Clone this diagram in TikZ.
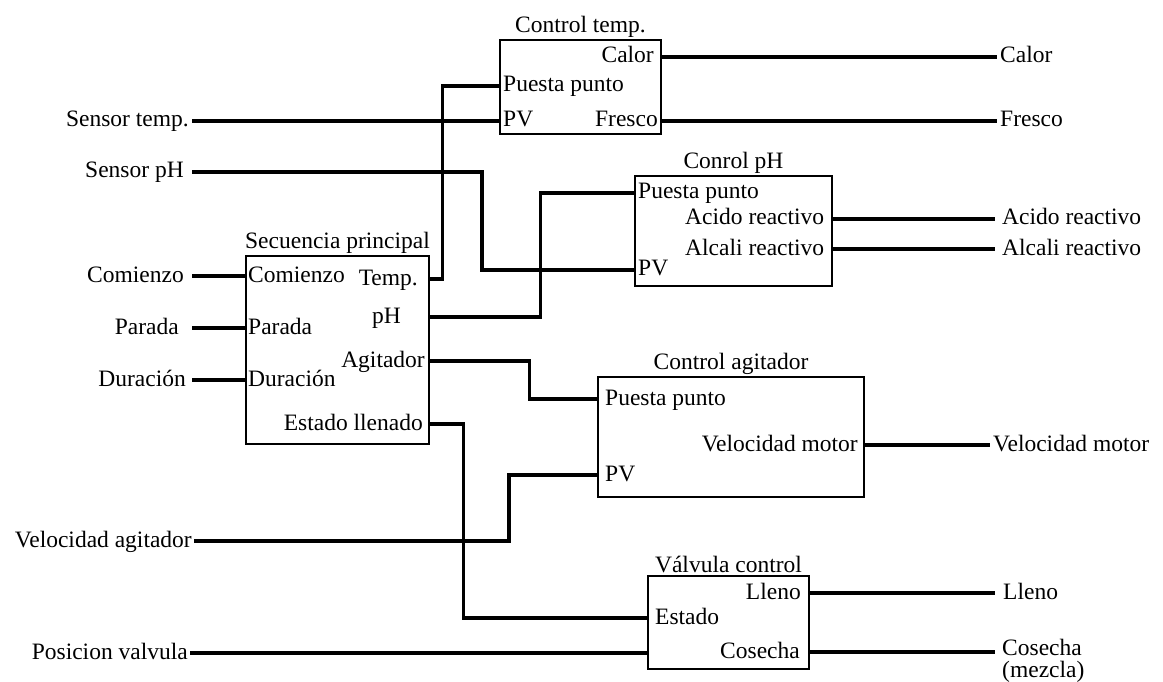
\documentclass[tikz,border=0pt]{standalone}
\usepackage{fontspec}
\setmainfont{Liberation Serif}
\usepackage{tikz}
\usetikzlibrary{positioning}
\tikzset{
	block/.style={
			rectangle, draw=black, line width=1.4pt, inner sep=0pt},
	tag/.style={
			inner sep=2pt, text height=16pt, text depth=4pt},
	title/.style={
			inner sep=2pt},
	wire/.style={
			draw=black, line width=3.2pt},
		}

\begin{document}
\begin{tikzpicture} [x=1pt, y=-1pt, font=\fontsize{23.5}{27}\selectfont]
	\useasboundingbox (0,0) rectangle (1163,682);

	% blocks
	\node[block, minimum width=161, minimum height=94] (ctemp) at (580.5,87) {};
	\node[block, minimum width=197, minimum height=110] (cph) at (733.5,231) {};
	\node[block, minimum width=183, minimum height=188] (seq) at (337.5,350) {};
	\node[block, minimum width=266, minimum height=120] (cagit) at (731,437) {};
	\node[block, minimum width=161, minimum height=93] (valv) at (728.5,622.5) {};

	\node[title, above=0pt of ctemp] (ctempT) {Control temp.};
	\node[title, above=0pt of cph] (cphT) {Conrol pH};
	\node[title, above=0pt of seq] (seqT) {Secuencia principal};
	\node[title, above=0pt of cagit] (cagitT) {Control agitador};
	\node[title, above=0pt of valv] (valvT) {Válvula control};

	% ports
	\node[tag, anchor=east] (ctCalor) at (656,57) {Calor};
	\node[tag, anchor=west] (ctSP) at (501,86) {Puesta punto};
	\node[tag, anchor=west] (ctPV) at (501,121) {PV};
	\node[tag, anchor=east] (ctFr) at (660,121) {Fresco};

	\node[tag, anchor=west] (phSP) at (636,193) {Puesta punto};
	\node[tag, anchor=west] (phAc) at (683,219) {Acido reactivo};
	\node[tag, anchor=west] (phAl) at (683,249) {Alcali reactivo};
	\node[tag, anchor=west] (phPV) at (636,270) {PV};

	\node[tag, anchor=west] (sqStart) at (246,276) {Comienzo};
	\node[tag, anchor=east] (sqTemp) at (420,279) {Temp.};
	\node[tag, anchor=west] (sqStop) at (246,328) {Parada};
	\node[tag, anchor=west] (sqPH) at (370,317) {pH};
	\node[tag, anchor=east] (sqAg) at (427,361) {Agitador};
	\node[tag, anchor=west] (sqDur) at (246,380) {Duración};
	\node[tag, anchor=east] (sqFill) at (425,424) {Estado llenado};

	\node[tag, anchor=west] (agSP) at (603,399) {Puesta punto};
	\node[tag, anchor=east] (agMot) at (860,445) {Velocidad motor};
	\node[tag, anchor=west] (agPV) at (603,475) {PV};

	\node[tag, anchor=east] (vcLl) at (803,593) {Lleno};
	\node[tag, anchor=west] (vcSt) at (653,618) {Estado};
	\node[tag, anchor=east] (vcCos) at (802,652) {Cosecha};

	% inputs
	\node[tag, anchor=east, inner xsep=3pt] (iTemp) at (192,121) {Sensor temp.};
	\node[tag, anchor=east, inner xsep=8pt] (iPH) at (192,172) {Sensor pH};
	\node[tag, anchor=east, inner xsep=8pt] (iStart) at (192,276) {Comienzo};
	\node[tag, anchor=east, inner xsep=13pt] (iStop) at (192,328) {Parada};
	\node[tag, anchor=east, inner xsep=6pt] (iDur) at (192,380) {Duración};
	\node[tag, anchor=east] (iAgV) at (194,541) {Velocidad agitador};
	\node[tag, anchor=east] (iValv) at (190,653) {Posicion valvula};

	% outputs
	\node[tag, anchor=west, inner xsep=3pt] (oCalor) at (997,57) {Calor};
	\node[tag, anchor=west, inner xsep=3pt] (oFr) at (997,121) {Fresco};
	\node[tag, anchor=west, inner xsep=7pt] (oAc) at (995,219) {Acido reactivo};
	\node[tag, anchor=west, inner xsep=7pt] (oAl) at (995,249) {Alcali reactivo};
	\node[tag, anchor=west, inner xsep=3pt] (oMot) at (990,445) {Velocidad motor};
	\node[tag, anchor=west, inner xsep=8pt] (oLl) at (995,593) {Lleno};
	\node[anchor=north west, inner xsep=7pt, inner ysep=0pt, align=left,
		font=\fontsize{23.5}{22}\selectfont] (oCos) at (995,639) {Cosecha\\(mezcla)};

	% wires
	\draw[wire] (iTemp.east) -- (ctemp.west |- ctPV);
	\draw[wire] (iPH.east) -- ++(290,0) |- (cph.west |- phPV);
	\draw[wire] (iStart.east) -- (seq.west |- sqStart);
	\draw[wire] (iStop.east) -- (seq.west |- sqStop);
	\draw[wire] (iDur.east) -- (seq.west |- sqDur);
	\draw[wire] (iAgV.east) -- ++(315,0) |- (cagit.west |- agPV);
	\draw[wire] (iValv.east) -- (valv.west |- iValv);

	\draw[wire] (seq.east |- sqTemp) -- ++(13,0) |- (ctemp.west |- ctSP);
	\draw[wire] (seq.east |- sqPH) -- ++(111,0) |- (cph.west |- phSP);
	\draw[wire] (seq.east |- sqAg) -- ++(100,0) |- (cagit.west |- agSP);
	\draw[wire] (seq.east |- sqFill) -- ++(34,0) |- (valv.west |- vcSt);

	\draw[wire] (ctemp.east |- ctCalor) -- (oCalor.west);
	\draw[wire] (ctemp.east |- ctFr) -- (oFr.west);
	\draw[wire] (cph.east |- phAc) -- (oAc.west);
	\draw[wire] (cph.east |- phAl) -- (oAl.west);
	\draw[wire] (cagit.east |- agMot) -- (oMot.west);
	\draw[wire] (valv.east |- vcLl) -- (oLl.west);
	\draw[wire] (valv.east |- vcCos) -- (vcCos -| oCos.west);
%
\end{tikzpicture}
\end{document}
